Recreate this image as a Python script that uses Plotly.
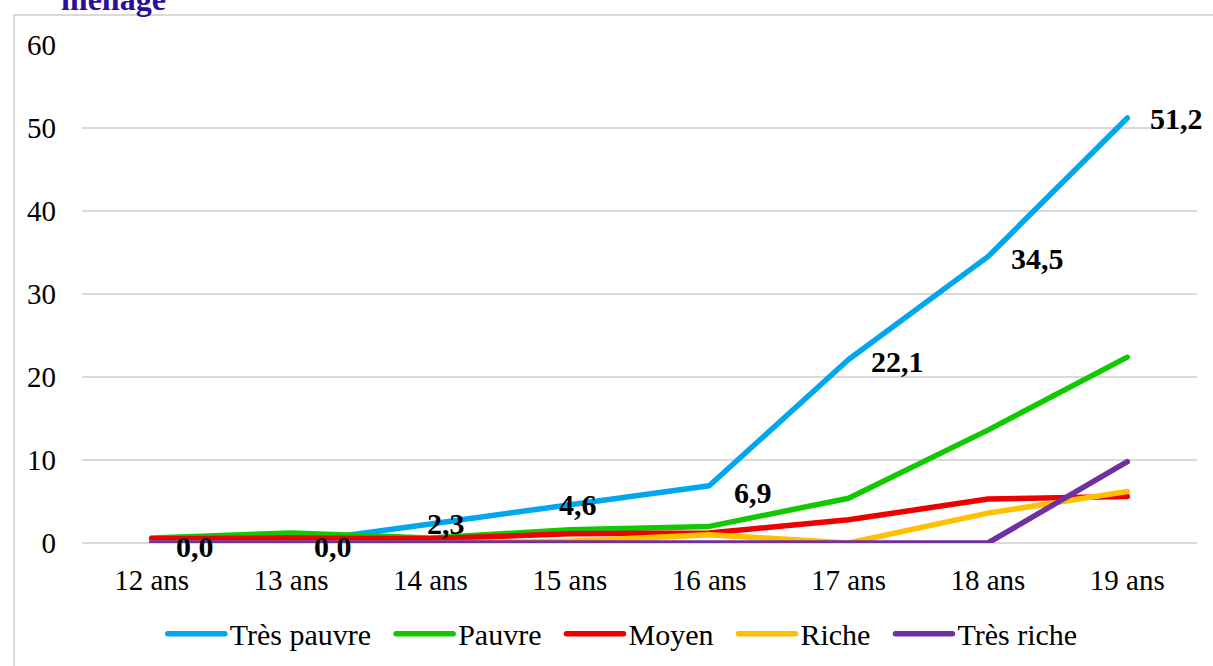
import plotly.graph_objs as go

ages = ['12 ans', '13 ans', '14 ans', '15 ans', '16 ans', '17 ans', '18 ans', '19 ans']

tres_pauvre = [0.0, 0.0, 2.3, 4.6, 6.9, 22.1, 34.5, 51.2]
pauvre = [0.6, 1.2, 0.6, 1.6, 2.0, 5.4, 13.6, 22.4]
moyen = [0.5, 0.6, 0.5, 1.1, 1.2, 2.8, 5.3, 5.6]
riche = [0.0, 0.0, 0.0, 0.2, 1.0, 0.0, 3.6, 6.2]
tres_riche = [0.0, 0.0, 0.0, 0.0, 0.0, 0.0, 0.0, 9.8]

labels = ['0,0', '0,0', '2,3', '4,6', '6,9', '22,1', '34,5', '51,2']
yticks = [0, 10, 20, 30, 40, 50, 60]

series = [
    ('Très pauvre', tres_pauvre, '#00A6EE'),
    ('Pauvre', pauvre, '#12C900'),
    ('Moyen', moyen, '#EE0000'),
    ('Riche', riche, '#FFC000'),
    ('Très riche', tres_riche, '#7030A0'),
]

# label offsets (px) relative to the Très pauvre points
label_dx = [22, 21, -5, -13, 23, 20, 21, 21]
label_dy = [-3, -3, 0, 0, -7, -2, -2, 0]

FONT = 'Liberation Serif, Times New Roman, serif'
PAD = '\u00a0\u00a0'  # extra room between legend entries

traces = [
    go.Scatter(
        name=name if i == len(series) - 1 else name + PAD,
        x=ages,
        y=vals,
        mode='lines',
        line=dict(color=color, width=5.5),
        cliponaxis=False,
    )
    for i, (name, vals, color) in enumerate(series)
]

annotations = [
    dict(x=ages[i], y=tres_pauvre[i], xref='x', yref='y', text=f'<b>{labels[i]}</b>',
         showarrow=False, xanchor='left', yanchor='middle', xshift=label_dx[i], yshift=label_dy[i],
         font=dict(family=FONT, size=30, color='black'))
    for i in range(len(ages))
]
# cropped chart title at the top
annotations.append(dict(
    x=-0.021, y=1.052, xref='paper', yref='paper', text='<b>ménage</b>', showarrow=False,
    xanchor='left', yanchor='bottom', font=dict(family=FONT, size=32, color='#2B0E9E')))

layout = go.Layout(
    width=1213,
    height=666,
    margin=dict(l=81.5, r=16, t=45, b=122.7, pad=0, autoexpand=False),
    paper_bgcolor='white',
    plot_bgcolor='white',
    font=dict(family=FONT, size=29, color='black'),
    showlegend=True,
    legend=dict(orientation='h', x=0.485, y=-0.182, xanchor='center', yanchor='middle',
                font=dict(family=FONT, size=30), itemwidth=57, tracegroupgap=0,
                bgcolor='rgba(0,0,0,0)'),
    xaxis=dict(range=[-0.5, 7.5], automargin=False, showgrid=False, showline=False, zeroline=False,
               ticks='', ticklabelstandoff=17, tickfont=dict(size=29)),
    yaxis=dict(range=[0, 60], tickvals=yticks, automargin=False, showgrid=True, gridcolor='#D9D9D9',
               gridwidth=1.5, zeroline=True, zerolinecolor='#D9D9D9', zerolinewidth=1.5,
               showline=False, ticks='', ticklabelstandoff=25, tickfont=dict(size=29)),
    shapes=[dict(type='rect', xref='paper', yref='paper', x0=-0.0609, y0=-0.4, x1=1.05, y1=1.0602,
                 line=dict(color='#D9D9D9', width=2), fillcolor='rgba(0,0,0,0)', layer='below')],
    annotations=annotations,
)

# round line ends like the original chart
post = """
document.body.style.margin = '0';
var st = document.createElement('style');
st.textContent = '.scatterlayer path.js-line, .legendlines path {stroke-linecap: round !important; stroke-linejoin: round !important;}';
document.head.appendChild(st);
"""

fig = go.Figure(traces, layout=layout)
fig.write_html('out.html', config={'displayModeBar': False}, post_script=post)
